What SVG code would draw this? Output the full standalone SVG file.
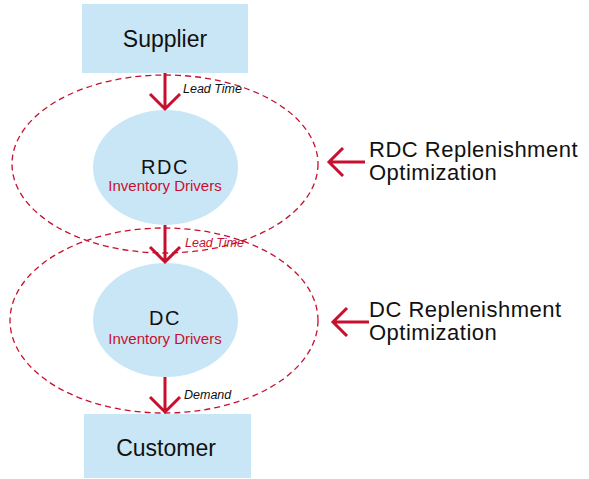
<svg xmlns="http://www.w3.org/2000/svg" width="589" height="479" viewBox="0 0 589 479">
<defs>
<style>
.box{fill:#c9e6f7}
.t{font-family:"Liberation Sans",Arial,sans-serif;fill:#111}
.big{font-size:23px}
.lab{font-size:22px;letter-spacing:0.5px}
.red{fill:#c8102e}
.it{font-style:italic;font-size:12.5px}
.dash{fill:none;stroke:#c8102e;stroke-width:1.3;stroke-dasharray:6 4}
.arr{fill:none;stroke:#c8102e;stroke-width:3;stroke-linecap:butt;stroke-linejoin:miter}
</style>
</defs>
<rect width="589" height="479" fill="#fff"/>
<g id="region-rdc"><ellipse class="dash" cx="165" cy="164" rx="153" ry="89"/></g>
<g id="region-dc"><ellipse class="dash" cx="164" cy="320.5" rx="154" ry="92.5"/></g>
<g id="supplier">
<rect class="box" x="82" y="4" width="166" height="69"/>
<text class="t big" x="165" y="47" text-anchor="middle">Supplier</text>
</g>
<g id="rdc">
<ellipse class="box" cx="165.5" cy="167.5" rx="72.5" ry="57.5"/>
<text class="t" x="165" y="174" text-anchor="middle" font-size="20" letter-spacing="1.5">RDC</text>
<text class="t red" x="165" y="191" text-anchor="middle" font-size="15">Inventory Drivers</text>
</g>
<g id="dc">
<ellipse class="box" cx="165.5" cy="320" rx="72.5" ry="57"/>
<text class="t" x="165" y="325" text-anchor="middle" font-size="20" letter-spacing="1.5">DC</text>
<text class="t red" x="165" y="344" text-anchor="middle" font-size="15">Inventory Drivers</text>
</g>
<g id="customer">
<rect class="box" x="84" y="414" width="167" height="64"/>
<text class="t big" x="166" y="456" text-anchor="middle">Customer</text>
</g>
<g id="label-rdc">
<text class="t lab" x="369" y="157">RDC Replenishment</text>
<text class="t lab" x="369" y="180">Optimization</text>
</g>
<g id="label-dc">
<text class="t lab" x="369" y="317">DC Replenishment</text>
<text class="t lab" x="369" y="340">Optimization</text>
</g>
<g id="connectors">
<path class="arr" d="M165 73V109M150 94L165 109L180 94"/>
<text class="t it" x="183" y="93">Lead Time</text>
<path class="arr" d="M165 225V262M150 247L165 262L180 247"/>
<text class="t it red" x="185" y="247">Lead Time</text>
<path class="arr" d="M165 377V412M150 397L165 412L180 397"/>
<text class="t it" x="184" y="399">Demand</text>
<path class="arr" d="M365 162H329M343 148L329 162L343 176"/>
<path class="arr" d="M369 322H333M347 308L333 322L347 336"/>
</g>
</svg>
